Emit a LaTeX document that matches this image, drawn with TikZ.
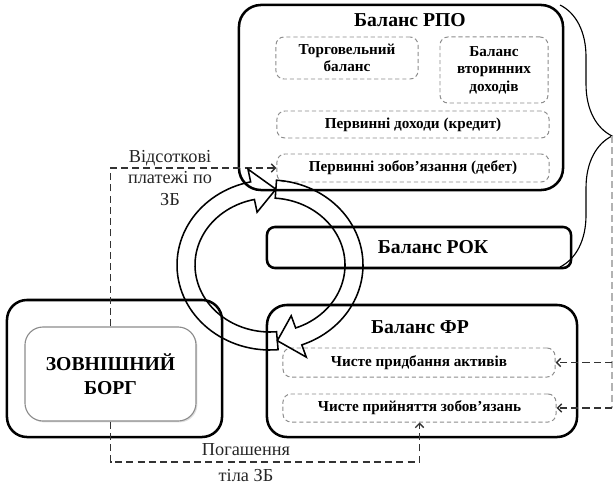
\documentclass[tikz,border=0pt]{standalone}
\usepackage{fontspec}
\setmainfont{Liberation Serif}
\usetikzlibrary{arrows.meta,positioning,calc,decorations.pathreplacing,shadows}

\begin{document}
\begin{tikzpicture}[x=0.025cm, y=-0.025cm,
    bigbox/.style={draw, line width=1.8pt, rounded corners=0.55cm, inner sep=0pt},
    subbox/.style={draw=black!45, dash pattern=on 3pt off 2pt, line width=0.7pt,
        rounded corners=0.2cm, align=center, inner sep=2pt,
        font=\fontsize{10.8}{12.5}\selectfont\bfseries},
    title/.style={font=\fontsize{14}{17}\selectfont\bfseries},
    flow/.style={line width=1pt, black!80, dash pattern=on 5pt off 3pt,
        -{Straight Barb[length=3pt,width=6pt]}},
    flowlabel/.style={font=\fontsize{13}{15.5}\selectfont, black!85, align=center},
    cycarrow/.style={line width=1.1pt, line join=miter}
]

\useasboundingbox (0,0) rectangle (616,485);

% Current account balance
\node[bigbox, minimum width=8.1cm, minimum height=4.625cm] (rpo) at (401,97.5) {};
\node[title] (rpotitle) at (410,20) {Баланс РПО};
\node[subbox, minimum width=3.55cm, minimum height=1.05cm] (torg) at (347,58) {Торговельний\\баланс};
\node[subbox, minimum width=2.7cm, minimum height=1.65cm] (vtor) at (494,70) {Баланс\\вторинних\\доходів};
\node[subbox, minimum width=6.8cm, minimum height=0.675cm] (perdoh) at (413,124.5) {Первинні доходи (кредит)};
\node[subbox, minimum width=6.8cm, minimum height=0.7cm] (perzob) at (413,168) {Первинні зобов'язання (дебет)};

% Capital account balance
\node[bigbox, rounded corners=0.2cm, minimum width=7.6cm, minimum height=1.025cm, title] (rok) at (419,247.5) {\hspace*{0.7cm}Баланс РОК};

% Financial account balance
\node[bigbox, rounded corners=0.5cm, minimum width=7.75cm, minimum height=3.3cm] (fr) at (422,371) {};
\node[title] (frtitle) at (420,327) {Баланс ФР};
\node[subbox, minimum width=6.8cm, minimum height=0.725cm] (akt) at (419,362.5) {Чисте придбання активів};
\node[subbox, minimum width=6.825cm, minimum height=0.7cm] (zob) at (419.5,408) {Чисте прийняття зобов'язань};

% External debt
\node[bigbox, rounded corners=0.5cm, minimum width=5.375cm, minimum height=3.425cm] (zbout) at (114.5,368.5) {};
\node[draw=black!45, line width=0.8pt, fill=white, rounded corners=0.45cm,
      minimum width=4.275cm, minimum height=2.35cm, align=center,
      drop shadow={shadow xshift=1pt, shadow yshift=-1pt, opacity=0.25},
      font=\fontsize{14}{17}\selectfont\bfseries] (zb) at (110.5,374) {ЗОВНІШНИЙ\\БОРГ};

% Debt flows
\draw[flow] (zb.north) |- (perzob.west);
\node[flowlabel] (interest) at (170,178) {Відсоткові\\платежі по\\ЗБ};
\draw[flow] (zb.south) -- (zb.south |- 0,462) -| (zob.south);
\node[flowlabel] (repay) at (246,463) {Погашення\\[3pt]тіла ЗБ};

% Brace over current and capital accounts
\draw[line width=0.8pt, decorate, decoration={brace, amplitude=1.3cm}] (560,5) -- (560,267);
\coordinate (tip) at (612,136);
\draw[black!30, dash pattern=on 5pt off 3pt, line width=0.8pt] (tip) -- (tip |- zob.east);
\draw[flow] (tip |- akt.east) -- (akt.east);
\draw[flow] (tip |- zob.east) -- (zob.east);

% Circular arrows between the accounts
\def\cycrx{84}
\def\cycry{76}
\def\cycbw{9}
\def\cychw{22}
\coordinate (cyc) at (270,265);
\begin{scope}[shift={(cyc)}, x=0.025cm, y=0.025cm]
\draw[cycarrow] plot[domain=275:102, samples=60] ({(\cycrx+\cycbw)*cos(\x)}, {(\cycry+\cycbw)*sin(\x)})
    -- ({(\cycrx+\cychw)*cos(102)}, {(\cycry+\cychw)*sin(102)})
    -- ({\cycrx*cos(86)}, {\cycry*sin(86)})
    -- ({(\cycrx-\cychw)*cos(102)}, {(\cycry-\cychw)*sin(102)})
    -- plot[domain=102:275, samples=60] ({(\cycrx-\cycbw)*cos(\x)}, {(\cycry-\cycbw)*sin(\x)})
    -- cycle;
\draw[cycarrow] plot[domain=86:-70, samples=60] ({(\cycrx+\cycbw)*cos(\x)}, {(\cycry+\cycbw)*sin(\x)})
    -- ({(\cycrx+\cychw)*cos(-70)}, {(\cycry+\cychw)*sin(-70)})
    -- ({\cycrx*cos(-85)}, {\cycry*sin(-85)})
    -- ({(\cycrx-\cychw)*cos(-70)}, {(\cycry-\cychw)*sin(-70)})
    -- plot[domain=-70:86, samples=60] ({(\cycrx-\cycbw)*cos(\x)}, {(\cycry-\cycbw)*sin(\x)})
    -- cycle;
\end{scope}

\end{tikzpicture}
\end{document}
